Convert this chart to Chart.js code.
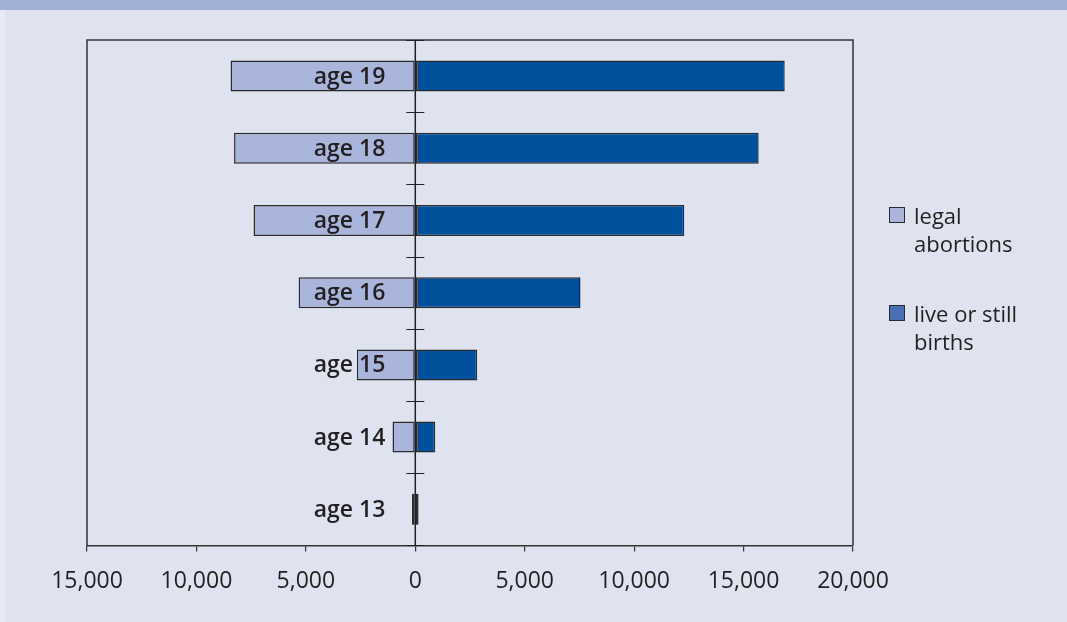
<!DOCTYPE html>
<html>
<head>
<meta charset="utf-8">
<script src="https://cdn.jsdelivr.net/npm/chart.js@4.4.1/dist/chart.umd.min.js"></script>
<style>
  html, body { margin: 0; padding: 0; }
  body { width: 1067px; height: 622px; background: #dee3ef; position: relative; overflow: hidden; font-family: "Open Sans", sans-serif; }
  #band { position: absolute; left: 0; top: 0; width: 1067px; height: 10px; background: #a1b0d7; }
  #strip { position: absolute; left: 0; top: 10px; width: 5px; height: 612px; background: #e6eaf3; }
  #wrap { position: absolute; left: 0; top: 0; width: 1067px; height: 622px; }
  .leg { position: absolute; left: 889px; color: #231f20; font-size: 22px; line-height: 28px; }
  .leg .sw { position: absolute; left: 0; width: 14px; height: 14px; border: 1px solid #2a2a2a; }
  .leg .tx { position: absolute; left: 25px; top: 0; white-space: nowrap; }
</style>
</head>
<body>
<div id="band"></div>
<div id="strip"></div>
<div id="wrap"><canvas id="c" width="1067" height="622"></canvas></div>
<div class="leg" style="top:201px;"><div class="sw" style="top:6px;background:#aab5dc;"></div><div class="tx">legal<br>abortions</div></div>
<div class="leg" style="top:299px;"><div class="sw" style="top:6px;background:#4a6fb5;"></div><div class="tx">live or still<br>births</div></div>
<script>
const categories = ["age 19", "age 18", "age 17", "age 16", "age 15", "age 14", "age 13"];
const legalAbortions = [8440, 8280, 7390, 5330, 2670, 1040, 150];
const liveOrStillBirths = [16880, 15690, 12290, 7550, 2830, 910, 150];
const xTickMin = -15000, xTickMax = 20000, xTickStep = 5000;

const boxPlugin = {
  id: 'boxPlugin',
  afterDraw(chart) {
    const ctx = chart.ctx, a = chart.chartArea;
    const xs = chart.scales.x, ys = chart.scales.y;
    ctx.save();
    ctx.strokeStyle = '#333333';
    ctx.lineWidth = 1.5;
    ctx.beginPath();
    ctx.moveTo(a.left, a.bottom);
    ctx.lineTo(a.left, a.top);
    ctx.lineTo(a.right, a.top);
    ctx.lineTo(a.right, a.bottom);
    ctx.stroke();
    const x0 = xs.getPixelForValue(0);
    const step = ys.getPixelForValue(1) - ys.getPixelForValue(0);
    // zero axis line
    ctx.strokeStyle = '#231f20';
    ctx.lineWidth = 1.5;
    ctx.beginPath();
    ctx.moveTo(x0, a.top);
    ctx.lineTo(x0, a.bottom);
    ctx.stroke();
    // category boundary ticks crossing the zero axis
    ctx.lineWidth = 1.2;
    ctx.beginPath();
    for (let i = 0; i <= categories.length; i++) {
      const y = Math.round(ys.getPixelForValue(i) - step / 2) + 0.5;
      ctx.moveTo(x0 - 9, y);
      ctx.lineTo(x0 + 9, y);
    }
    ctx.stroke();
    // category labels, drawn over the bars, left of the zero axis
    ctx.fillStyle = '#231f20';
    ctx.font = '600 23px "Open Sans"';
    ctx.textAlign = 'right';
    ctx.textBaseline = 'middle';
    categories.forEach((c, i) => {
      ctx.fillText(c, x0 - 30, ys.getPixelForValue(i) + 1);
    });
    ctx.restore();
  }
};

new Chart(document.getElementById('c'), {
  type: 'bar',
  data: {
    labels: categories,
    datasets: [
      {
        label: 'legal abortions',
        data: legalAbortions.map(v => -v),
        backgroundColor: '#aab5dc',
        borderColor: '#2a2a2a',
        borderWidth: 1.5,
        borderSkipped: false,
        barPercentage: 0.43,
        categoryPercentage: 1
      },
      {
        label: 'live or still births',
        data: liveOrStillBirths,
        backgroundColor: '#00509e',
        borderColor: '#2a2a2a',
        borderWidth: 1.5,
        borderSkipped: false,
        barPercentage: 0.43,
        categoryPercentage: 1
      }
    ]
  },
  options: {
    indexAxis: 'y',
    responsive: false,
    animation: false,
    layout: { padding: { left: 87, right: 214, top: 40, bottom: 11 } },
    plugins: { legend: { display: false }, tooltip: { enabled: false } },
    scales: {
      x: {
        stacked: true,
        min: xTickMin,
        max: xTickMax,
        ticks: {
          stepSize: xTickStep,
          color: '#231f20',
          font: { family: 'Open Sans', size: 23 },
          padding: 16,
          maxRotation: 0,
          callback: v => Math.abs(v).toLocaleString('en-US')
        },
        grid: { drawOnChartArea: false, drawTicks: true, tickLength: 6, color: '#333333', lineWidth: 1.2 },
        border: { display: true, color: '#333333', width: 1.5 }
      },
      y: {
        stacked: true,
        position: { x: 0 },
        ticks: { display: false },
        grid: { display: false },
        border: { display: false }
      }
    }
  },
  plugins: [boxPlugin]
});
</script>
</body>
</html>
